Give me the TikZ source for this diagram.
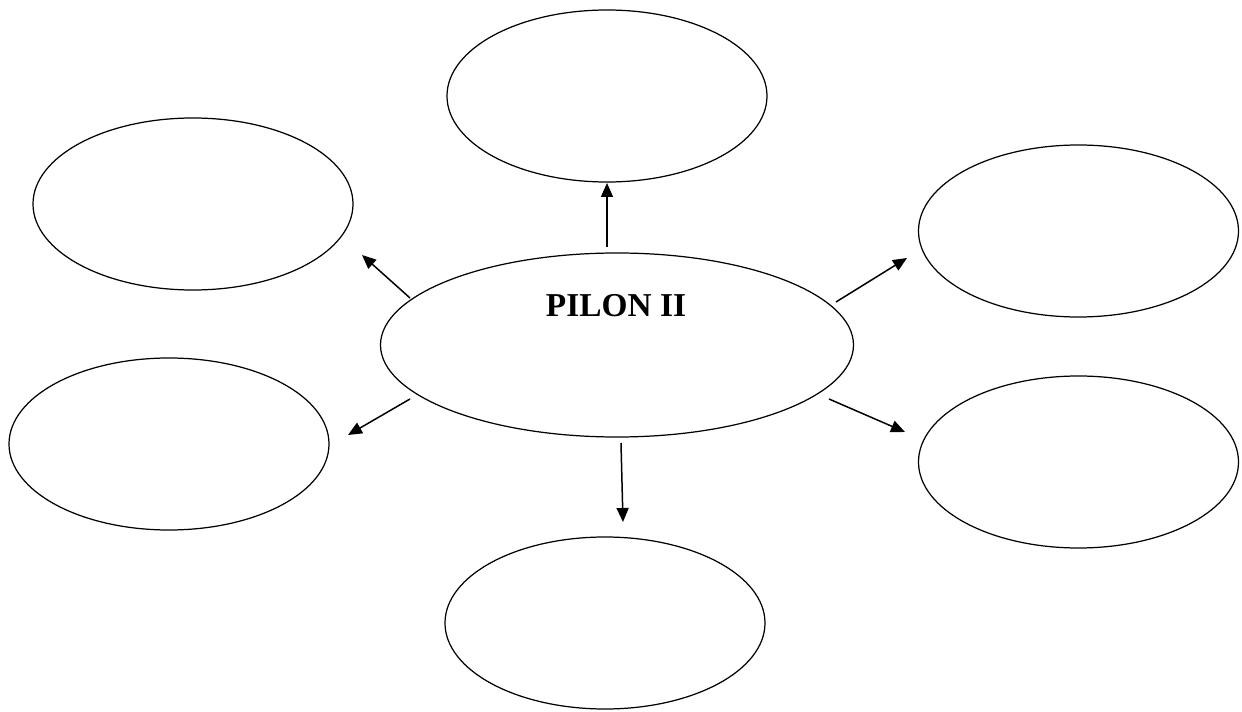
\documentclass[tikz,border=0pt]{standalone}
\usepackage{fontspec}
\setmainfont{Liberation Serif}
\usepackage{tikz}
\usetikzlibrary{shapes,arrows.meta}

\begin{document}
\begin{tikzpicture}[every node/.style={draw, ellipse, line width=0.7pt, minimum width=6.4cm, minimum height=3.44cm}]
  \useasboundingbox (0,0) rectangle (24.84,14.22);

  % Central Pilon
  \node[minimum width=9.46cm, minimum height=3.68cm] (pilon) at (12.34,7.32) {};
  \node[draw=none, minimum width=0pt, minimum height=0pt, inner sep=0pt] (title) at (12.32,8.10) {\fontsize{19}{22}\selectfont\bfseries PILON II};

  % Outer Ellipses
  \node (top) at (12.14,12.30) {};
  \node (upleft) at (3.86,10.14) {};
  \node (lowleft) at (3.38,5.34) {};
  \node (upright) at (21.57,9.60) {};
  \node (lowright) at (21.57,4.98) {};
  \node (bottom) at (12.10,1.76) {};

  % Arrow Ends
  \coordinate (top0) at (12.14,9.28);    \coordinate (top1) at (12.14,10.56);
  \coordinate (upleft0) at (8.20,8.26);  \coordinate (upleft1) at (7.24,9.12);
  \coordinate (upright0) at (16.72,8.18); \coordinate (upright1) at (18.14,9.06);
  \coordinate (lowleft0) at (8.20,6.24); \coordinate (lowleft1) at (6.96,5.52);
  \coordinate (lowright0) at (16.58,6.24); \coordinate (lowright1) at (18.10,5.58);
  \coordinate (bottom0) at (12.42,5.36); \coordinate (bottom1) at (12.46,3.78);

  % Arrows
  \draw[-{Triangle[length=0.28cm, width=0.24cm]}, line width=0.85pt] (top0) -- (top1);
  \draw[-{Triangle[length=0.28cm, width=0.24cm]}, line width=0.85pt] (upleft0) -- (upleft1);
  \draw[-{Triangle[length=0.28cm, width=0.24cm]}, line width=0.85pt] (upright0) -- (upright1);
  \draw[-{Triangle[length=0.28cm, width=0.24cm]}, line width=0.85pt] (lowleft0) -- (lowleft1);
  \draw[-{Triangle[length=0.28cm, width=0.24cm]}, line width=0.85pt] (lowright0) -- (lowright1);
  \draw[-{Triangle[length=0.28cm, width=0.24cm]}, line width=0.85pt] (bottom0) -- (bottom1);
\end{tikzpicture}
\end{document}
